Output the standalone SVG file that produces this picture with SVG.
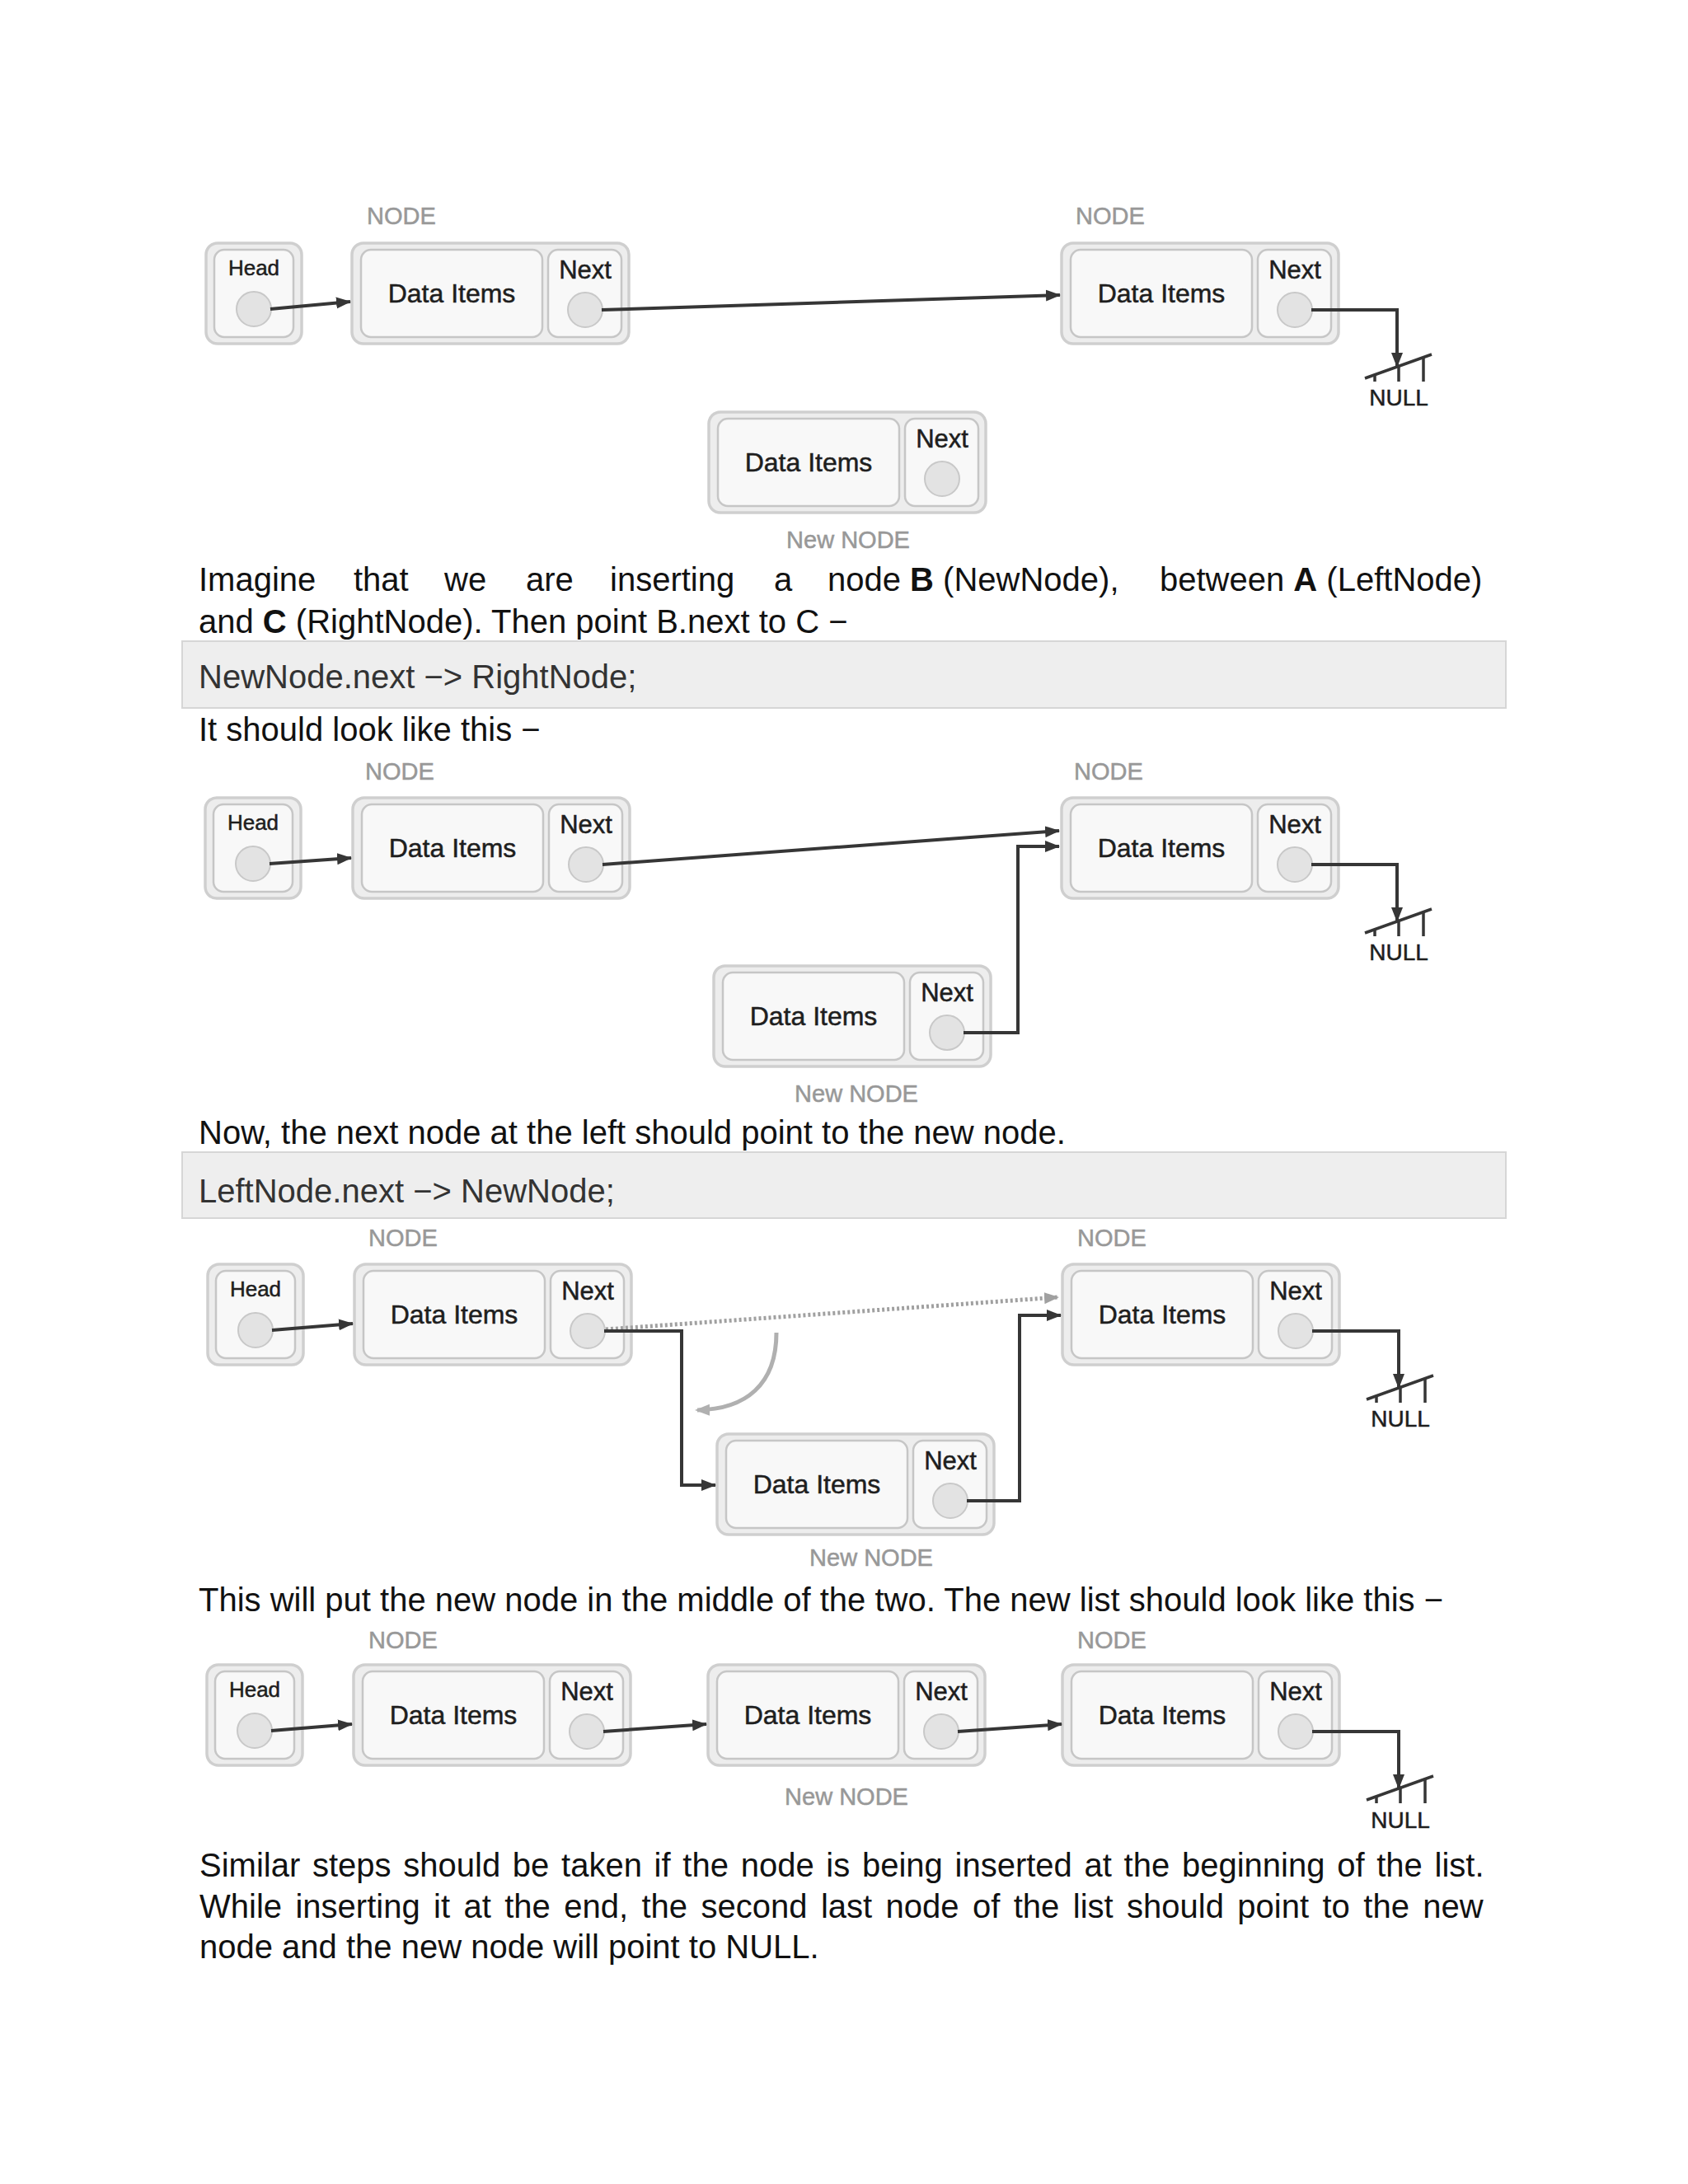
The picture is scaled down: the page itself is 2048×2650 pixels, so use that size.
<svg xmlns="http://www.w3.org/2000/svg" xmlns:xlink="http://www.w3.org/1999/xlink" width="2048" height="2650" viewBox="0 0 2048 2650">
<style>
.outer{fill:#ededed;stroke:#cfcfcf;stroke-width:3.5}
.inner{fill:#f8f8f8;stroke:#c6c6c6;stroke-width:2.5}
.circ{fill:#e3e3e3;stroke:#c8c8c8;stroke-width:2}
.t{font-family:"Liberation Sans",Arial,sans-serif;fill:#1e1e1e;stroke:#1e1e1e;stroke-width:0.5;text-anchor:middle}
.data{font-size:32px}
.nxt{font-size:31px}
.head{font-size:26px}
.cap{font-family:"Liberation Sans",Arial,sans-serif;font-size:29px;fill:#989898;stroke:#989898;stroke-width:0.5;text-anchor:middle}
.null{font-size:28px}
.body{font-family:"Liberation Sans",Arial,sans-serif;font-size:40px;fill:#111}
.code{font-family:"Liberation Sans",Arial,sans-serif;font-size:40px;fill:#333}
.cbox{fill:#eeeeee;stroke:#d6d6d6;stroke-width:2}
.conn{fill:none;stroke:#363636;stroke-width:4}
.dot{fill:none;stroke:#a0a0a0;stroke-width:5;stroke-dasharray:3 3}
.curve{fill:none;stroke:#b0b0b0;stroke-width:5}
.gnd{fill:none;stroke:#363636;stroke-width:3.5}
</style>
<defs>
<marker id="arr" markerUnits="userSpaceOnUse" markerWidth="18" markerHeight="15" refX="17" refY="7.5" orient="auto"><path d="M0,0.5 L18,7.5 L0,14.5 z" fill="#363636"/></marker>
<marker id="arrg" markerUnits="userSpaceOnUse" markerWidth="18" markerHeight="15" refX="17" refY="7.5" orient="auto"><path d="M0,0.5 L18,7.5 L0,14.5 z" fill="#a0a0a0"/></marker>
<marker id="arrc" markerUnits="userSpaceOnUse" markerWidth="18" markerHeight="15" refX="15" refY="7.5" orient="auto"><path d="M0,0.5 L18,7.5 L0,14.5 z" fill="#b0b0b0"/></marker>
<g id="nodeShape">
<rect x="0" y="0" width="336" height="122" rx="14" class="outer"/>
<rect x="11" y="8" width="220" height="106" rx="12" class="inner"/>
<rect x="238" y="8" width="89" height="106" rx="12" class="inner"/>
<circle cx="283" cy="81" r="21" class="circ"/>
</g>
<g id="headShape">
<rect x="0" y="0" width="116" height="122" rx="14" class="outer"/>
<rect x="10" y="8" width="96" height="106" rx="12" class="inner"/>
<circle cx="58" cy="80" r="21" class="circ"/>
</g>
<g id="ground">
<line x1="-39" y1="164" x2="42" y2="135" class="gnd"/>
<line x1="-27" y1="159.7" x2="-27" y2="168" class="gnd"/>
<line x1="2" y1="149" x2="2" y2="168" class="gnd"/>
<line x1="32" y1="138.6" x2="32" y2="168" class="gnd"/>
</g>
</defs>
<rect width="2048" height="2650" fill="#ffffff"/>

<!-- Diagram 1 -->
<g id="d1-head"><use xlink:href="#headShape" x="250" y="295"/><text class="t head" x="308" y="334">Head</text></g>
<g id="d1-left"><use xlink:href="#nodeShape" x="427" y="295"/><text class="cap" x="487" y="272">NODE</text><text class="t data" x="548" y="367">Data Items</text><text class="t nxt" x="710" y="338">Next</text></g>
<g id="d1-right"><use xlink:href="#nodeShape" x="1288" y="295"/><text class="cap" x="1347" y="272">NODE</text><text class="t data" x="1409" y="367">Data Items</text><text class="t nxt" x="1571" y="338">Next</text></g>
<g id="d1-new"><use xlink:href="#nodeShape" x="860" y="500"/><text class="t data" x="981" y="572">Data Items</text><text class="t nxt" x="1143" y="543">Next</text><text class="cap" x="1029" y="665">New NODE</text></g>
<g id="d1-null"><use xlink:href="#ground" x="1695" y="295"/><text class="t null" x="1697" y="492">NULL</text></g>

<!-- Diagram 2 -->
<g id="d2-head"><use xlink:href="#headShape" x="249" y="968"/><text class="t head" x="307" y="1007">Head</text></g>
<g id="d2-left"><use xlink:href="#nodeShape" x="428" y="968"/><text class="cap" x="485" y="946">NODE</text><text class="t data" x="549" y="1040">Data Items</text><text class="t nxt" x="711" y="1011">Next</text></g>
<g id="d2-right"><use xlink:href="#nodeShape" x="1288" y="968"/><text class="cap" x="1345" y="946">NODE</text><text class="t data" x="1409" y="1040">Data Items</text><text class="t nxt" x="1571" y="1011">Next</text></g>
<g id="d2-new"><use xlink:href="#nodeShape" x="866" y="1172"/><text class="t data" x="987" y="1244">Data Items</text><text class="t nxt" x="1149" y="1215">Next</text><text class="cap" x="1039" y="1337">New NODE</text></g>
<g id="d2-null"><use xlink:href="#ground" x="1695" y="968"/><text class="t null" x="1697" y="1165">NULL</text></g>

<!-- Diagram 3 -->
<g id="d3-head"><use xlink:href="#headShape" x="252" y="1534"/><text class="t head" x="310" y="1573">Head</text></g>
<g id="d3-left"><use xlink:href="#nodeShape" x="430" y="1534"/><text class="cap" x="489" y="1512">NODE</text><text class="t data" x="551" y="1606">Data Items</text><text class="t nxt" x="713" y="1577">Next</text></g>
<g id="d3-right"><use xlink:href="#nodeShape" x="1289" y="1534"/><text class="cap" x="1349" y="1512">NODE</text><text class="t data" x="1410" y="1606">Data Items</text><text class="t nxt" x="1572" y="1577">Next</text></g>
<g id="d3-new"><use xlink:href="#nodeShape" x="870" y="1740"/><text class="t data" x="991" y="1812">Data Items</text><text class="t nxt" x="1153" y="1783">Next</text><text class="cap" x="1057" y="1900">New NODE</text></g>
<g id="d3-null"><use xlink:href="#ground" x="1697" y="1534"/><text class="t null" x="1699" y="1731">NULL</text></g>

<!-- Diagram 4 -->
<g id="d4-head"><use xlink:href="#headShape" x="251" y="2020"/><text class="t head" x="309" y="2059">Head</text></g>
<g id="d4-left"><use xlink:href="#nodeShape" x="429" y="2020"/><text class="cap" x="489" y="2000">NODE</text><text class="t data" x="550" y="2092">Data Items</text><text class="t nxt" x="712" y="2063">Next</text></g>
<g id="d4-new"><use xlink:href="#nodeShape" x="859" y="2020"/><text class="t data" x="980" y="2092">Data Items</text><text class="t nxt" x="1142" y="2063">Next</text><text class="cap" x="1027" y="2190">New NODE</text></g>
<g id="d4-right"><use xlink:href="#nodeShape" x="1289" y="2020"/><text class="cap" x="1349" y="2000">NODE</text><text class="t data" x="1410" y="2092">Data Items</text><text class="t nxt" x="1572" y="2063">Next</text></g>
<g id="d4-null"><use xlink:href="#ground" x="1697" y="2020"/><text class="t null" x="1699" y="2218">NULL</text></g>

<g id="connectors">
<path class="conn" d="M328 375 L425 366" marker-end="url(#arr)"/>
<path class="conn" d="M730 376 L1286 358" marker-end="url(#arr)"/>
<path class="conn" d="M1591 376 H1695 V445" marker-end="url(#arr)"/>

<path class="conn" d="M327 1048 L426 1041" marker-end="url(#arr)"/>
<path class="conn" d="M731 1049 L1285 1008" marker-end="url(#arr)"/>
<path class="conn" d="M1169 1253 H1235 V1027 H1285" marker-end="url(#arr)"/>
<path class="conn" d="M1591 1049 H1695 V1118" marker-end="url(#arr)"/>

<path class="conn" d="M330 1614 L428 1606" marker-end="url(#arr)"/>
<path class="dot" d="M735 1613 L1284 1574" marker-end="url(#arrg)"/>
<path class="conn" d="M733 1615 H827 V1802 H868" marker-end="url(#arr)"/>
<path class="curve" d="M942 1617 C942 1680 905 1710 846 1711" marker-end="url(#arrc)"/>
<path class="conn" d="M1173 1821 H1237 V1596 H1287" marker-end="url(#arr)"/>
<path class="conn" d="M1592 1615 H1697 V1684" marker-end="url(#arr)"/>

<path class="conn" d="M329 2100 L427 2092" marker-end="url(#arr)"/>
<path class="conn" d="M732 2101 L857 2092" marker-end="url(#arr)"/>
<path class="conn" d="M1162 2101 L1288 2092" marker-end="url(#arr)"/>
<path class="conn" d="M1592 2101 H1697 V2170" marker-end="url(#arr)"/>
</g>

<g id="text">
<text class="body" y="717"><tspan x="241">Imagine</tspan><tspan x="429">that</tspan><tspan x="539">we</tspan><tspan x="638">are</tspan><tspan x="740">inserting</tspan><tspan x="939">a</tspan><tspan x="1004">node </tspan><tspan font-weight="bold">B</tspan><tspan> (NewNode),</tspan><tspan x="1407">between </tspan><tspan font-weight="bold">A</tspan><tspan> (LeftNode)</tspan></text>
<text class="body" x="241" y="768">and <tspan font-weight="bold">C</tspan> (RightNode). Then point B.next to C −</text>
<rect class="cbox" x="221" y="778" width="1606" height="81"/>
<text class="code" x="241" y="835">NewNode.next −&gt; RightNode;</text>
<text class="body" x="241" y="899">It should look like this −</text>
<text class="body" x="241" y="1388">Now, the next node at the left should point to the new node.</text>
<rect class="cbox" x="221" y="1398" width="1606" height="80"/>
<text class="code" x="241" y="1459">LeftNode.next −&gt; NewNode;</text>
<text class="body" x="241" y="1955">This will put the new node in the middle of the two. The new list should look like this −</text>
<text class="body" x="242" y="2277" word-spacing="3.6">Similar steps should be taken if the node is being inserted at the beginning of the list.</text>
<text class="body" x="242" y="2327" word-spacing="5.3">While inserting it at the end, the second last node of the list should point to the new</text>
<text class="body" x="242" y="2376">node and the new node will point to NULL.</text>
</g>
</svg>
